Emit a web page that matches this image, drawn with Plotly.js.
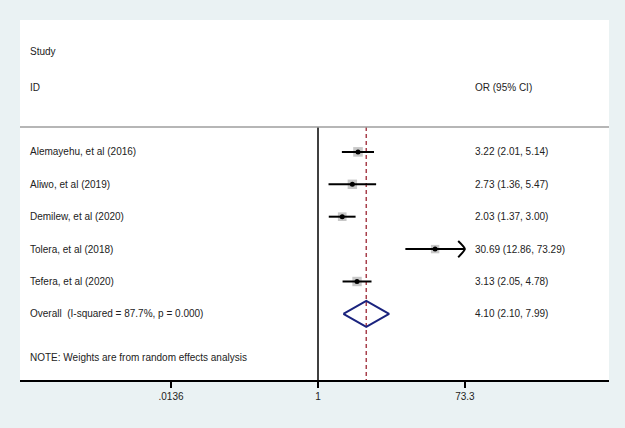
<!DOCTYPE html>
<html><head><meta charset="utf-8">
<script src="https://cdn.plot.ly/plotly-3.0.1.min.js"></script>
<style>html,body{margin:0;padding:0;background:#eaf2f3;}</style>
</head><body>
<div id="chart" style="width:625px;height:428px;"></div>
<script>
// ---- data ----
const studies = ["Alemayehu, et al (2016)", "Aliwo, et al (2019)", "Demilew, et al (2020)", "Tolera, et al (2018)", "Tefera, et al (2020)"];
const orVals = [3.22, 2.73, 2.03, 30.69, 3.13];
const lowerCI = [2.01, 1.36, 1.37, 12.86, 2.05];
const upperCI = [5.14, 5.47, 3.00, 73.29, 4.78];
const weights = [21, 20, 17, 16, 20];
const overallLabel = "Overall  (I-squared = 87.7%, p = 0.000)";
const overallOR = 4.10, overallLo = 2.10, overallHi = 7.99;
const tickVals = [0.0136, 1, 73.3];
const tickText = [".0136", "1", "73.3"];
const note = "NOTE: Weights are from random effects analysis";

const fmt = v => v.toFixed(2);
const rows = studies.map((s, i) => i + 1);
const overallRow = studies.length + 1;
const noteRow = overallRow + 1.36;
const topRow = 0.23, bottomRow = 8.04;
const clipMax = 73.3;

const traces = [];
// null line at 1
traces.push({x: [1, 1], y: [topRow, bottomRow], mode: 'lines', line: {color: '#000', width: 1.5}, hoverinfo: 'skip', showlegend: false});
// overall dashed line
traces.push({x: [overallOR, overallOR], y: [topRow, bottomRow], mode: 'lines', line: {color: '#a8404c', width: 1.5, dash: '4px,3px'}, hoverinfo: 'skip', showlegend: false});
// weight boxes
traces.push({x: orVals, y: rows, mode: 'markers', marker: {symbol: 'square', color: '#b0b0b0', size: weights.map(w => 2.1 * Math.sqrt(w)), line: {width: 0}}, hoverinfo: 'skip', showlegend: false});
// CI lines (with chevron arrow when clipped)
studies.forEach((s, i) => {
  const hi = Math.min(upperCI[i], clipMax);
  traces.push({x: [lowerCI[i], hi], y: [rows[i], rows[i]], mode: 'lines', line: {color: '#000', width: 2}, hoverinfo: 'skip', showlegend: false});
  if (upperCI[i] >= clipMax * 0.99) {
    const back = hi / Math.pow(10, 0.085);
    traces.push({x: [back, hi, back], y: [rows[i] - 0.25, rows[i], rows[i] + 0.25], mode: 'lines', line: {color: '#000', width: 2, shape: 'spline', smoothing: 0.6}, hoverinfo: 'skip', showlegend: false});
  }
});
// point estimates
traces.push({x: orVals, y: rows, mode: 'markers', marker: {symbol: 'circle', color: '#000', size: 5}, hoverinfo: 'skip', showlegend: false});
// overall diamond
const dh = 0.4;
traces.push({x: [overallLo, overallOR, overallHi, overallOR, overallLo], y: [overallRow, overallRow - dh, overallRow, overallRow + dh, overallRow], mode: 'lines', line: {color: '#1a237e', width: 2}, hoverinfo: 'skip', showlegend: false});

const font = {family: 'Liberation Sans, Arial, sans-serif', size: 10, color: '#222'};
const annotations = [];
const leftX = 0.014, rightX = 0.769;
annotations.push({xref: 'paper', yref: 'y', x: leftX, y: -2.09, text: 'Study', showarrow: false, xanchor: 'left', font});
annotations.push({xref: 'paper', yref: 'y', x: leftX, y: -1.0, text: 'ID', showarrow: false, xanchor: 'left', font});
annotations.push({xref: 'paper', yref: 'y', x: rightX, y: -1.0, text: 'OR (95% CI)', showarrow: false, xanchor: 'left', font});
studies.forEach((s, i) => {
  annotations.push({xref: 'paper', yref: 'y', x: leftX, y: rows[i], text: s, showarrow: false, xanchor: 'left', font});
  annotations.push({xref: 'paper', yref: 'y', x: rightX, y: rows[i], text: `${fmt(orVals[i])} (${fmt(lowerCI[i])}, ${fmt(upperCI[i])})`, showarrow: false, xanchor: 'left', font});
});
annotations.push({xref: 'paper', yref: 'y', x: leftX, y: overallRow, text: overallLabel, showarrow: false, xanchor: 'left', font});
annotations.push({xref: 'paper', yref: 'y', x: rightX, y: overallRow, text: `${fmt(overallOR)} (${fmt(overallLo)}, ${fmt(overallHi)})`, showarrow: false, xanchor: 'left', font});
annotations.push({xref: 'paper', yref: 'y', x: leftX, y: noteRow, text: note, showarrow: false, xanchor: 'left', font});

const layout = {
  width: 625, height: 428,
  margin: {l: 20, r: 16, t: 20, b: 48},
  paper_bgcolor: '#eaf2f3', plot_bgcolor: '#ffffff',
  showlegend: false,
  xaxis: {type: 'log', range: [-3.784, 3.695], tickvals: tickVals, ticktext: tickText,
    showgrid: false, zeroline: false, showline: true, linecolor: '#000', linewidth: 1.5,
    ticks: 'outside', ticklen: 6, tickwidth: 1.5, tickcolor: '#000',
    tickfont: font, fixedrange: true},
  yaxis: {range: [bottomRow, -3.07], showgrid: false, zeroline: false, showticklabels: false, showline: false, ticks: '', fixedrange: true},
  shapes: [{type: 'line', xref: 'paper', yref: 'y', x0: 0, x1: 1, y0: topRow, y1: topRow, line: {color: '#9e9e9e', width: 1.5}}],
  annotations
};
Plotly.newPlot('chart', traces, layout, {displayModeBar: false, staticPlot: true});
</script>
</body></html>
